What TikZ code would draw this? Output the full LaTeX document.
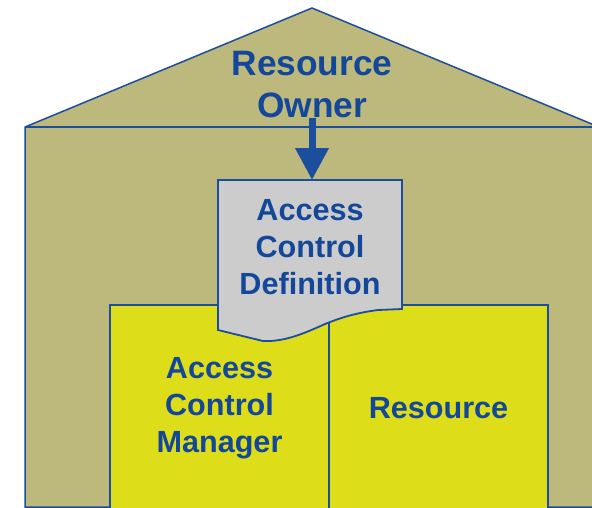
\documentclass[tikz,border=0pt]{standalone}
\usepackage{fontspec}
\setmainfont{Liberation Sans}
\usetikzlibrary{positioning,arrows.meta}

\definecolor{hutkhaki}{HTML}{BDB97D}
\definecolor{unityellow}{HTML}{DDDD1A}
\definecolor{docgray}{HTML}{CCCCCC}
\definecolor{lineblue}{HTML}{1B4E9C}
\definecolor{textblue}{HTML}{12479A}

\tikzset{
  house/.style={draw=lineblue, line width=1.5pt, fill=hutkhaki},
  label/.style={text=textblue, align=center, inner sep=0pt,
    font=\fontsize{30.6}{37}\selectfont\bfseries},
  unit/.style={label, draw=lineblue, line width=1.8pt, fill=unityellow,
    outer sep=0pt, minimum width=219pt, minimum height=206pt},
  docshape/.style={draw=lineblue, line width=1.8pt, fill=docgray},
  feed/.style={draw=lineblue, line width=7pt, -{Triangle[width=32pt,length=32pt]}}
}

\begin{document}
\begin{tikzpicture}[x=1pt,y=-1pt]
  \clip (0,0) rectangle (592,507);
  % house outline
  \draw[house] (25,507) -- (25,127) -- (312,8) -- (599,127) -- (599,507) -- cycle;
  \draw[house] (25,127) -- (599,127);
  \node[label, font=\fontsize{35.3}{42}\selectfont\bfseries] (owner) at (312,85) {Resource\\Owner};

  \node[unit, anchor=north west] (acm) at (110,305) {Access\\Control\\Manager};
  \node[unit, right=0pt of acm] (res) {Resource};

  % document with wavy bottom
  \draw[docshape] (218,180) -- (402,180) -- (402,309) -- (378,310)
    .. controls (355,313) and (340,318) .. (325,324)
    .. controls (305,333) and (285,342) .. (263,341)
    -- (218,330) -- cycle;
  \node[label, anchor=north, minimum width=184pt, minimum height=134pt] (acd) at (310,180) {Access\\Control\\Definition};

  \coordinate (ownerfoot) at (312,118);
  \draw[feed] (ownerfoot) -- (ownerfoot |- acd.north);
\end{tikzpicture}
\end{document}
